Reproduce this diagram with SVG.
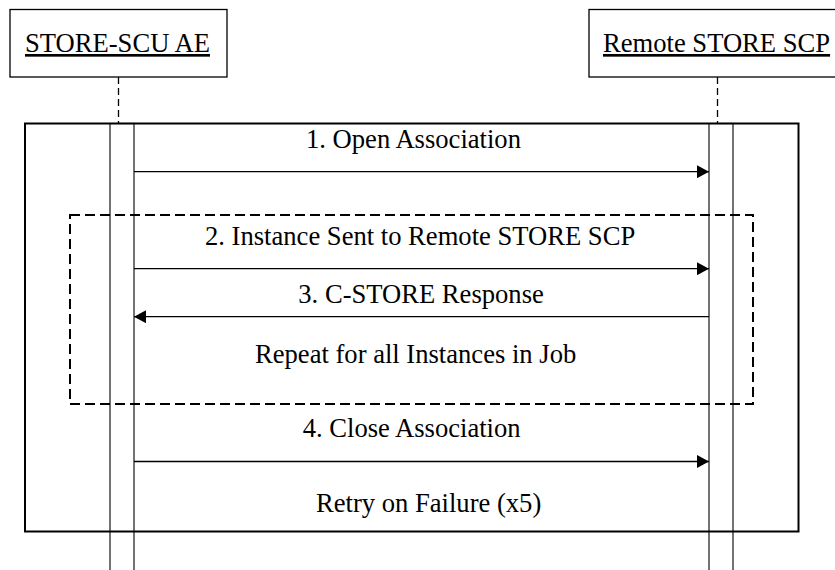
<svg xmlns="http://www.w3.org/2000/svg" width="835" height="570" viewBox="0 0 835 570">
<style>
.hdr{fill:#fff;stroke:#000;stroke-width:1.3}
.life{stroke:#000;stroke-width:1.3;stroke-dasharray:7 4;fill:none}
.bar{stroke:#000;stroke-width:1.1;fill:none}
.msg{stroke:#000;stroke-width:1.3;fill:none}
</style>
<defs>
<marker id="ah" viewBox="0 0 12 13" refX="12" refY="6.5" markerWidth="12" markerHeight="13" markerUnits="userSpaceOnUse" orient="auto">
<path d="M0,0 L12,6.5 L0,13 Z" fill="#000"/>
</marker>
</defs>
<rect width="835" height="570" fill="#fff"/>
<g id="outer-frame">
<rect x="25" y="123.5" width="773.5" height="408" fill="none" stroke="#000" stroke-width="2"/>
</g>
<g id="loop-frame">
<rect x="70" y="215" width="683" height="189" fill="none" stroke="#000" stroke-width="2" stroke-dasharray="10 5"/>
</g>
<g font-family="Liberation Serif, Tinos, Times New Roman, DejaVu Serif, serif" font-size="26.6" fill="#000">
<g id="store-scu">
<rect class="hdr" x="10" y="9.5" width="217" height="67.5"/>
<text x="25" y="52" text-decoration="underline">STORE-SCU AE</text>
<line class="life" x1="118.5" y1="77" x2="118.5" y2="123.5"/>
<rect class="bar" x="110" y="123.5" width="24" height="460"/>
</g>
<g id="remote-scp">
<rect class="hdr" x="589" y="9.5" width="256" height="67.5"/>
<text x="603" y="52" text-decoration="underline">Remote STORE SCP</text>
<line class="life" x1="717.5" y1="77" x2="717.5" y2="123.5"/>
<rect class="bar" x="709" y="123.5" width="24" height="460"/>
</g>
<g id="connectors">
<line class="msg" x1="134" y1="171.7" x2="709" y2="171.7" marker-end="url(#ah)"/>
<line class="msg" x1="134" y1="268.7" x2="709" y2="268.7" marker-end="url(#ah)"/>
<line class="msg" x1="709" y1="316.7" x2="134" y2="316.7" marker-end="url(#ah)"/>
<line class="msg" x1="134" y1="461.5" x2="709" y2="461.5" marker-end="url(#ah)"/>
</g>
<g id="labels">
<text x="306" y="148">1. Open Association</text>
<text x="205" y="245">2. Instance Sent to Remote STORE SCP</text>
<text x="298.3" y="302.7">3. C-STORE Response</text>
<text x="255" y="363.3">Repeat for all Instances in Job</text>
<text x="302.7" y="437.3">4. Close Association</text>
<text x="316" y="511.7">Retry on Failure (x5)</text>
</g>
</g>
</svg>
